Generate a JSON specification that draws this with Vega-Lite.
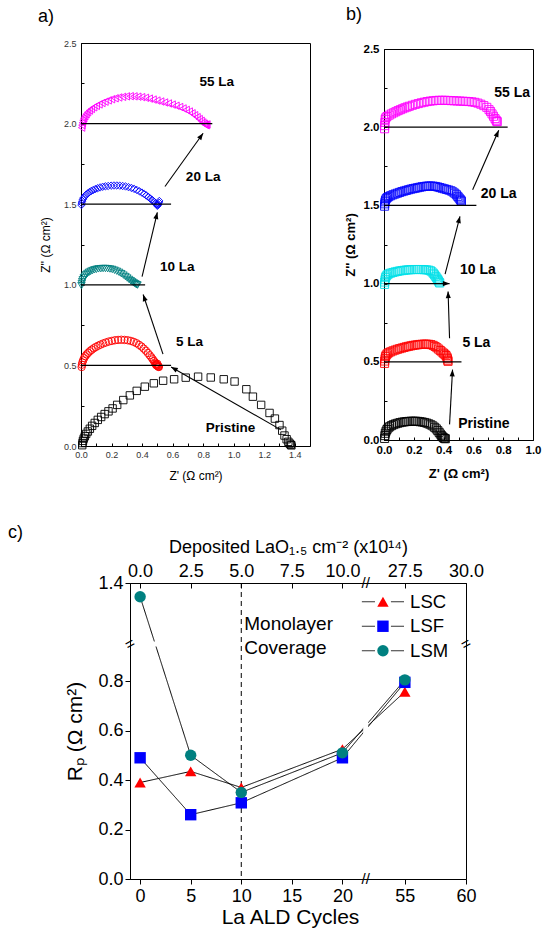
{
"$schema": "https://vega.github.io/schema/vega-lite/v6.json",
"autosize": {"type": "none"},
"padding": {"left": 81, "top": 43, "right": 462, "bottom": 889},
"background": "white",
"config": {
 "font": "Liberation Sans",
 "view": {"stroke": "#000", "strokeWidth": 1},
 "axis": {"grid": false, "domainColor": "#000", "domainWidth": 1, "tickColor": "#000", "labelColor": "#000", "titleColor": "#000", "titleFontWeight": "normal", "labelFont": "Liberation Sans", "titleFont": "Liberation Sans", "labelOverlap": false, "labelFlush": false},
 "title": {"font": "Liberation Sans", "fontWeight": "normal", "fontSize": 18, "color": "#000"},
 "legend": {"labelFont": "Liberation Sans"}
},
"datasets": {
 "a_pts": [
  {"s":"Pristine","x":0.008,"y":0.005},{"s":"Pristine","x":0.01,"y":0.018},{"s":"Pristine","x":0.013,"y":0.032},{"s":"Pristine","x":0.018,"y":0.046},{"s":"Pristine","x":0.025,"y":0.06},{"s":"Pristine","x":0.034,"y":0.075},{"s":"Pristine","x":0.045,"y":0.09},{"s":"Pristine","x":0.058,"y":0.107},{"s":"Pristine","x":0.073,"y":0.125},{"s":"Pristine","x":0.09,"y":0.143},{"s":"Pristine","x":0.11,"y":0.162},{"s":"Pristine","x":0.132,"y":0.18},{"s":"Pristine","x":0.155,"y":0.198},{"s":"Pristine","x":0.18,"y":0.215},{"s":"Pristine","x":0.207,"y":0.233},{"s":"Pristine","x":0.237,"y":0.255},{"s":"Pristine","x":0.277,"y":0.285},{"s":"Pristine","x":0.32,"y":0.314},{"s":"Pristine","x":0.365,"y":0.342},{"s":"Pristine","x":0.418,"y":0.368},{"s":"Pristine","x":0.477,"y":0.389},{"s":"Pristine","x":0.538,"y":0.405},{"s":"Pristine","x":0.61,"y":0.414},{"s":"Pristine","x":0.686,"y":0.424},{"s":"Pristine","x":0.767,"y":0.43},{"s":"Pristine","x":0.85,"y":0.425},{"s":"Pristine","x":0.935,"y":0.414},{"s":"Pristine","x":1.006,"y":0.4},{"s":"Pristine","x":1.083,"y":0.352},{"s":"Pristine","x":1.126,"y":0.306},{"s":"Pristine","x":1.18,"y":0.255},{"s":"Pristine","x":1.235,"y":0.205},{"s":"Pristine","x":1.27,"y":0.17},{"s":"Pristine","x":1.3,"y":0.13},{"s":"Pristine","x":1.318,"y":0.095},{"s":"Pristine","x":1.333,"y":0.065},{"s":"Pristine","x":1.347,"y":0.042},{"s":"Pristine","x":1.358,"y":0.026},{"s":"Pristine","x":1.367,"y":0.015},{"s":"Pristine","x":1.374,"y":0.008},{"s":"Pristine","x":1.378,"y":0.004},
  {"s":"5 La","x":0.004,"y":0.49},{"s":"5 La","x":0.006,"y":0.504},{"s":"5 La","x":0.009,"y":0.518},{"s":"5 La","x":0.014,"y":0.532},{"s":"5 La","x":0.02,"y":0.545},{"s":"5 La","x":0.028,"y":0.557},{"s":"5 La","x":0.037,"y":0.568},{"s":"5 La","x":0.047,"y":0.578},{"s":"5 La","x":0.058,"y":0.588},{"s":"5 La","x":0.07,"y":0.597},{"s":"5 La","x":0.083,"y":0.606},{"s":"5 La","x":0.097,"y":0.614},{"s":"5 La","x":0.112,"y":0.622},{"s":"5 La","x":0.128,"y":0.629},{"s":"5 La","x":0.145,"y":0.636},{"s":"5 La","x":0.163,"y":0.642},{"s":"5 La","x":0.182,"y":0.648},{"s":"5 La","x":0.202,"y":0.652},{"s":"5 La","x":0.222,"y":0.656},{"s":"5 La","x":0.243,"y":0.658},{"s":"5 La","x":0.264,"y":0.659},{"s":"5 La","x":0.285,"y":0.658},{"s":"5 La","x":0.306,"y":0.656},{"s":"5 La","x":0.326,"y":0.652},{"s":"5 La","x":0.345,"y":0.646},{"s":"5 La","x":0.363,"y":0.638},{"s":"5 La","x":0.38,"y":0.628},{"s":"5 La","x":0.396,"y":0.617},{"s":"5 La","x":0.411,"y":0.604},{"s":"5 La","x":0.425,"y":0.591},{"s":"5 La","x":0.438,"y":0.577},{"s":"5 La","x":0.45,"y":0.563},{"s":"5 La","x":0.461,"y":0.55},{"s":"5 La","x":0.47,"y":0.538},{"s":"5 La","x":0.478,"y":0.527},{"s":"5 La","x":0.485,"y":0.518},{"s":"5 La","x":0.491,"y":0.511},{"s":"5 La","x":0.496,"y":0.505},{"s":"5 La","x":0.5,"y":0.5},{"s":"5 La","x":0.503,"y":0.497},{"s":"5 La","x":0.506,"y":0.494},{"s":"5 La","x":0.508,"y":0.492},{"s":"5 La","x":0.51,"y":0.49},{"s":"5 La","x":0.495,"y":0.5},{"s":"5 La","x":0.5,"y":0.51},{"s":"5 La","x":0.49,"y":0.505},
  {"s":"10 La","x":0.003,"y":0.995},{"s":"10 La","x":0.005,"y":1.008},{"s":"10 La","x":0.008,"y":1.02},{"s":"10 La","x":0.012,"y":1.032},{"s":"10 La","x":0.018,"y":1.043},{"s":"10 La","x":0.025,"y":1.053},{"s":"10 La","x":0.033,"y":1.062},{"s":"10 La","x":0.042,"y":1.07},{"s":"10 La","x":0.052,"y":1.077},{"s":"10 La","x":0.063,"y":1.083},{"s":"10 La","x":0.075,"y":1.088},{"s":"10 La","x":0.088,"y":1.093},{"s":"10 La","x":0.101,"y":1.096},{"s":"10 La","x":0.115,"y":1.099},{"s":"10 La","x":0.13,"y":1.1},{"s":"10 La","x":0.145,"y":1.101},{"s":"10 La","x":0.16,"y":1.101},{"s":"10 La","x":0.175,"y":1.1},{"s":"10 La","x":0.19,"y":1.098},{"s":"10 La","x":0.205,"y":1.095},{"s":"10 La","x":0.22,"y":1.09},{"s":"10 La","x":0.235,"y":1.084},{"s":"10 La","x":0.25,"y":1.077},{"s":"10 La","x":0.264,"y":1.069},{"s":"10 La","x":0.278,"y":1.06},{"s":"10 La","x":0.291,"y":1.051},{"s":"10 La","x":0.303,"y":1.042},{"s":"10 La","x":0.315,"y":1.033},{"s":"10 La","x":0.326,"y":1.025},{"s":"10 La","x":0.336,"y":1.018},{"s":"10 La","x":0.345,"y":1.012},{"s":"10 La","x":0.353,"y":1.007},{"s":"10 La","x":0.36,"y":1.003},{"s":"10 La","x":0.366,"y":1.0},{"s":"10 La","x":0.37,"y":0.998},
  {"s":"20 La","x":0.003,"y":1.495},{"s":"20 La","x":0.005,"y":1.507},{"s":"20 La","x":0.008,"y":1.519},{"s":"20 La","x":0.012,"y":1.53},{"s":"20 La","x":0.018,"y":1.54},{"s":"20 La","x":0.025,"y":1.55},{"s":"20 La","x":0.034,"y":1.559},{"s":"20 La","x":0.044,"y":1.567},{"s":"20 La","x":0.055,"y":1.575},{"s":"20 La","x":0.067,"y":1.582},{"s":"20 La","x":0.08,"y":1.588},{"s":"20 La","x":0.094,"y":1.594},{"s":"20 La","x":0.109,"y":1.599},{"s":"20 La","x":0.125,"y":1.604},{"s":"20 La","x":0.142,"y":1.608},{"s":"20 La","x":0.16,"y":1.611},{"s":"20 La","x":0.178,"y":1.613},{"s":"20 La","x":0.197,"y":1.615},{"s":"20 La","x":0.216,"y":1.616},{"s":"20 La","x":0.235,"y":1.616},{"s":"20 La","x":0.254,"y":1.615},{"s":"20 La","x":0.273,"y":1.613},{"s":"20 La","x":0.292,"y":1.61},{"s":"20 La","x":0.311,"y":1.606},{"s":"20 La","x":0.33,"y":1.601},{"s":"20 La","x":0.348,"y":1.595},{"s":"20 La","x":0.366,"y":1.588},{"s":"20 La","x":0.383,"y":1.58},{"s":"20 La","x":0.399,"y":1.572},{"s":"20 La","x":0.414,"y":1.563},{"s":"20 La","x":0.428,"y":1.554},{"s":"20 La","x":0.441,"y":1.545},{"s":"20 La","x":0.453,"y":1.536},{"s":"20 La","x":0.464,"y":1.528},{"s":"20 La","x":0.473,"y":1.52},{"s":"20 La","x":0.481,"y":1.513},{"s":"20 La","x":0.488,"y":1.507},{"s":"20 La","x":0.494,"y":1.502},{"s":"20 La","x":0.499,"y":1.498},{"s":"20 La","x":0.503,"y":1.495},{"s":"20 La","x":0.506,"y":1.5},{"s":"20 La","x":0.51,"y":1.51},{"s":"20 La","x":0.513,"y":1.52},{"s":"20 La","x":0.5,"y":1.49},
  {"s":"55 La","x":0.004,"y":1.975},{"s":"55 La","x":0.006,"y":1.99},{"s":"55 La","x":0.009,"y":2.005},{"s":"55 La","x":0.013,"y":2.02},{"s":"55 La","x":0.018,"y":2.033},{"s":"55 La","x":0.025,"y":2.046},{"s":"55 La","x":0.033,"y":2.058},{"s":"55 La","x":0.043,"y":2.07},{"s":"55 La","x":0.055,"y":2.081},{"s":"55 La","x":0.068,"y":2.091},{"s":"55 La","x":0.083,"y":2.101},{"s":"55 La","x":0.1,"y":2.11},{"s":"55 La","x":0.118,"y":2.119},{"s":"55 La","x":0.137,"y":2.128},{"s":"55 La","x":0.157,"y":2.136},{"s":"55 La","x":0.178,"y":2.144},{"s":"55 La","x":0.2,"y":2.151},{"s":"55 La","x":0.223,"y":2.157},{"s":"55 La","x":0.247,"y":2.162},{"s":"55 La","x":0.272,"y":2.166},{"s":"55 La","x":0.297,"y":2.169},{"s":"55 La","x":0.322,"y":2.17},{"s":"55 La","x":0.347,"y":2.169},{"s":"55 La","x":0.372,"y":2.167},{"s":"55 La","x":0.397,"y":2.164},{"s":"55 La","x":0.422,"y":2.16},{"s":"55 La","x":0.447,"y":2.155},{"s":"55 La","x":0.472,"y":2.149},{"s":"55 La","x":0.497,"y":2.143},{"s":"55 La","x":0.522,"y":2.137},{"s":"55 La","x":0.547,"y":2.131},{"s":"55 La","x":0.572,"y":2.125},{"s":"55 La","x":0.597,"y":2.118},{"s":"55 La","x":0.622,"y":2.111},{"s":"55 La","x":0.646,"y":2.103},{"s":"55 La","x":0.668,"y":2.094},{"s":"55 La","x":0.689,"y":2.085},{"s":"55 La","x":0.709,"y":2.075},{"s":"55 La","x":0.727,"y":2.064},{"s":"55 La","x":0.744,"y":2.052},{"s":"55 La","x":0.76,"y":2.04},{"s":"55 La","x":0.774,"y":2.028},{"s":"55 La","x":0.787,"y":2.017},{"s":"55 La","x":0.798,"y":2.007},{"s":"55 La","x":0.807,"y":1.999},{"s":"55 La","x":0.814,"y":1.993},{"s":"55 La","x":0.82,"y":1.99},{"s":"55 La","x":0.825,"y":1.995}
 ],
 "a_lines": [{"x":0,"x2":0.59,"y":0.5},{"x":0,"x2":0.42,"y":1.0},{"x":0,"x2":0.59,"y":1.5},{"x":0,"x2":0.86,"y":2.0}],
 "a_arrows": [{"x":1.31,"y":0.1,"x2":0.59,"y2":0.49},{"x":0.537,"y":0.57,"x2":0.407,"y2":0.94},{"x":0.4,"y":1.05,"x2":0.5,"y2":1.45},{"x":0.55,"y":1.61,"x2":0.8,"y2":1.94}],
 "a_text": [{"label":"55 La","x":0.89,"y":2.26},{"label":"20 La","x":0.8,"y":1.67},{"label":"10 La","x":0.63,"y":1.11},{"label":"5 La","x":0.71,"y":0.645},{"label":"Pristine","x":0.98,"y":0.11}],
 "b_pts": [
  {"s":"Pristine","x":0.004,"y":0.01},{"s":"Pristine","x":0.006,"y":0.028},{"s":"Pristine","x":0.009,"y":0.043},{"s":"Pristine","x":0.014,"y":0.056},{"s":"Pristine","x":0.02,"y":0.067},{"s":"Pristine","x":0.028,"y":0.077},{"s":"Pristine","x":0.038,"y":0.085},{"s":"Pristine","x":0.05,"y":0.092},{"s":"Pristine","x":0.063,"y":0.098},{"s":"Pristine","x":0.077,"y":0.103},{"s":"Pristine","x":0.092,"y":0.107},{"s":"Pristine","x":0.107,"y":0.111},{"s":"Pristine","x":0.122,"y":0.114},{"s":"Pristine","x":0.137,"y":0.116},{"s":"Pristine","x":0.152,"y":0.118},{"s":"Pristine","x":0.167,"y":0.119},{"s":"Pristine","x":0.182,"y":0.12},{"s":"Pristine","x":0.197,"y":0.12},{"s":"Pristine","x":0.212,"y":0.12},{"s":"Pristine","x":0.227,"y":0.119},{"s":"Pristine","x":0.242,"y":0.117},{"s":"Pristine","x":0.257,"y":0.115},{"s":"Pristine","x":0.272,"y":0.112},{"s":"Pristine","x":0.287,"y":0.108},{"s":"Pristine","x":0.301,"y":0.103},{"s":"Pristine","x":0.315,"y":0.097},{"s":"Pristine","x":0.328,"y":0.09},{"s":"Pristine","x":0.34,"y":0.081},{"s":"Pristine","x":0.351,"y":0.071},{"s":"Pristine","x":0.361,"y":0.06},{"s":"Pristine","x":0.37,"y":0.049},{"s":"Pristine","x":0.378,"y":0.038},{"s":"Pristine","x":0.386,"y":0.028},{"s":"Pristine","x":0.393,"y":0.02},{"s":"Pristine","x":0.4,"y":0.014},{"s":"Pristine","x":0.406,"y":0.01},{"s":"Pristine","x":0.412,"y":0.008},
  {"s":"5 La","x":0.004,"y":0.49},{"s":"5 La","x":0.005,"y":0.505},{"s":"5 La","x":0.007,"y":0.52},{"s":"5 La","x":0.01,"y":0.533},{"s":"5 La","x":0.015,"y":0.543},{"s":"5 La","x":0.022,"y":0.551},{"s":"5 La","x":0.032,"y":0.558},{"s":"5 La","x":0.045,"y":0.564},{"s":"5 La","x":0.06,"y":0.57},{"s":"5 La","x":0.075,"y":0.575},{"s":"5 La","x":0.09,"y":0.58},{"s":"5 La","x":0.105,"y":0.584},{"s":"5 La","x":0.12,"y":0.588},{"s":"5 La","x":0.135,"y":0.592},{"s":"5 La","x":0.15,"y":0.596},{"s":"5 La","x":0.165,"y":0.599},{"s":"5 La","x":0.18,"y":0.602},{"s":"5 La","x":0.195,"y":0.605},{"s":"5 La","x":0.21,"y":0.607},{"s":"5 La","x":0.225,"y":0.609},{"s":"5 La","x":0.24,"y":0.611},{"s":"5 La","x":0.255,"y":0.612},{"s":"5 La","x":0.27,"y":0.613},{"s":"5 La","x":0.285,"y":0.613},{"s":"5 La","x":0.3,"y":0.612},{"s":"5 La","x":0.315,"y":0.61},{"s":"5 La","x":0.33,"y":0.605},{"s":"5 La","x":0.343,"y":0.598},{"s":"5 La","x":0.355,"y":0.59},{"s":"5 La","x":0.367,"y":0.581},{"s":"5 La","x":0.378,"y":0.572},{"s":"5 La","x":0.389,"y":0.563},{"s":"5 La","x":0.399,"y":0.555},{"s":"5 La","x":0.408,"y":0.548},{"s":"5 La","x":0.416,"y":0.54},{"s":"5 La","x":0.422,"y":0.53},{"s":"5 La","x":0.426,"y":0.52},{"s":"5 La","x":0.428,"y":0.51},{"s":"5 La","x":0.43,"y":0.503},
  {"s":"10 La","x":0.004,"y":0.995},{"s":"10 La","x":0.005,"y":1.01},{"s":"10 La","x":0.007,"y":1.025},{"s":"10 La","x":0.01,"y":1.038},{"s":"10 La","x":0.015,"y":1.048},{"s":"10 La","x":0.022,"y":1.056},{"s":"10 La","x":0.032,"y":1.062},{"s":"10 La","x":0.045,"y":1.067},{"s":"10 La","x":0.06,"y":1.071},{"s":"10 La","x":0.075,"y":1.075},{"s":"10 La","x":0.09,"y":1.078},{"s":"10 La","x":0.105,"y":1.081},{"s":"10 La","x":0.12,"y":1.083},{"s":"10 La","x":0.135,"y":1.085},{"s":"10 La","x":0.15,"y":1.087},{"s":"10 La","x":0.165,"y":1.088},{"s":"10 La","x":0.18,"y":1.089},{"s":"10 La","x":0.195,"y":1.09},{"s":"10 La","x":0.21,"y":1.09},{"s":"10 La","x":0.225,"y":1.09},{"s":"10 La","x":0.24,"y":1.09},{"s":"10 La","x":0.255,"y":1.09},{"s":"10 La","x":0.27,"y":1.089},{"s":"10 La","x":0.285,"y":1.088},{"s":"10 La","x":0.3,"y":1.086},{"s":"10 La","x":0.312,"y":1.082},{"s":"10 La","x":0.322,"y":1.075},{"s":"10 La","x":0.331,"y":1.066},{"s":"10 La","x":0.339,"y":1.056},{"s":"10 La","x":0.347,"y":1.046},{"s":"10 La","x":0.354,"y":1.036},{"s":"10 La","x":0.36,"y":1.027},{"s":"10 La","x":0.365,"y":1.018},{"s":"10 La","x":0.37,"y":1.01},{"s":"10 La","x":0.374,"y":1.004},
  {"s":"20 La","x":0.004,"y":1.495},{"s":"20 La","x":0.005,"y":1.51},{"s":"20 La","x":0.007,"y":1.523},{"s":"20 La","x":0.01,"y":1.534},{"s":"20 La","x":0.015,"y":1.543},{"s":"20 La","x":0.022,"y":1.55},{"s":"20 La","x":0.032,"y":1.556},{"s":"20 La","x":0.045,"y":1.562},{"s":"20 La","x":0.06,"y":1.568},{"s":"20 La","x":0.075,"y":1.573},{"s":"20 La","x":0.09,"y":1.578},{"s":"20 La","x":0.105,"y":1.583},{"s":"20 La","x":0.12,"y":1.588},{"s":"20 La","x":0.135,"y":1.592},{"s":"20 La","x":0.15,"y":1.596},{"s":"20 La","x":0.165,"y":1.6},{"s":"20 La","x":0.18,"y":1.604},{"s":"20 La","x":0.195,"y":1.607},{"s":"20 La","x":0.21,"y":1.61},{"s":"20 La","x":0.225,"y":1.613},{"s":"20 La","x":0.24,"y":1.616},{"s":"20 La","x":0.255,"y":1.619},{"s":"20 La","x":0.27,"y":1.621},{"s":"20 La","x":0.285,"y":1.623},{"s":"20 La","x":0.3,"y":1.624},{"s":"20 La","x":0.315,"y":1.624},{"s":"20 La","x":0.33,"y":1.623},{"s":"20 La","x":0.345,"y":1.621},{"s":"20 La","x":0.36,"y":1.618},{"s":"20 La","x":0.375,"y":1.614},{"s":"20 La","x":0.39,"y":1.61},{"s":"20 La","x":0.405,"y":1.606},{"s":"20 La","x":0.42,"y":1.602},{"s":"20 La","x":0.435,"y":1.598},{"s":"20 La","x":0.45,"y":1.593},{"s":"20 La","x":0.463,"y":1.586},{"s":"20 La","x":0.475,"y":1.578},{"s":"20 La","x":0.486,"y":1.568},{"s":"20 La","x":0.495,"y":1.558},{"s":"20 La","x":0.503,"y":1.548},{"s":"20 La","x":0.51,"y":1.54},{"s":"20 La","x":0.515,"y":1.533},{"s":"20 La","x":0.52,"y":1.527},
  {"s":"55 La","x":0.004,"y":1.99},{"s":"55 La","x":0.005,"y":2.01},{"s":"55 La","x":0.006,"y":2.03},{"s":"55 La","x":0.008,"y":2.05},{"s":"55 La","x":0.012,"y":2.06},{"s":"55 La","x":0.02,"y":2.068},{"s":"55 La","x":0.035,"y":2.077},{"s":"55 La","x":0.05,"y":2.085},{"s":"55 La","x":0.065,"y":2.092},{"s":"55 La","x":0.08,"y":2.099},{"s":"55 La","x":0.095,"y":2.106},{"s":"55 La","x":0.11,"y":2.112},{"s":"55 La","x":0.125,"y":2.118},{"s":"55 La","x":0.14,"y":2.124},{"s":"55 La","x":0.155,"y":2.129},{"s":"55 La","x":0.17,"y":2.134},{"s":"55 La","x":0.19,"y":2.14},{"s":"55 La","x":0.21,"y":2.146},{"s":"55 La","x":0.23,"y":2.151},{"s":"55 La","x":0.25,"y":2.156},{"s":"55 La","x":0.27,"y":2.16},{"s":"55 La","x":0.29,"y":2.164},{"s":"55 La","x":0.31,"y":2.167},{"s":"55 La","x":0.33,"y":2.169},{"s":"55 La","x":0.35,"y":2.171},{"s":"55 La","x":0.37,"y":2.172},{"s":"55 La","x":0.39,"y":2.172},{"s":"55 La","x":0.41,"y":2.172},{"s":"55 La","x":0.43,"y":2.171},{"s":"55 La","x":0.45,"y":2.17},{"s":"55 La","x":0.47,"y":2.169},{"s":"55 La","x":0.49,"y":2.168},{"s":"55 La","x":0.51,"y":2.167},{"s":"55 La","x":0.53,"y":2.166},{"s":"55 La","x":0.55,"y":2.165},{"s":"55 La","x":0.57,"y":2.164},{"s":"55 La","x":0.59,"y":2.162},{"s":"55 La","x":0.61,"y":2.159},{"s":"55 La","x":0.63,"y":2.154},{"s":"55 La","x":0.65,"y":2.147},{"s":"55 La","x":0.67,"y":2.138},{"s":"55 La","x":0.69,"y":2.127},{"s":"55 La","x":0.705,"y":2.112},{"s":"55 La","x":0.715,"y":2.1},{"s":"55 La","x":0.725,"y":2.085},{"s":"55 La","x":0.735,"y":2.07},{"s":"55 La","x":0.745,"y":2.055},{"s":"55 La","x":0.752,"y":2.045},{"s":"55 La","x":0.757,"y":2.038},{"s":"55 La","x":0.76,"y":2.035}
 ],
 "b_lines": [{"x":0,"x2":0.52,"y":0.5},{"x":0,"x2":0.62,"y":1.5},{"x":0,"x2":0.83,"y":2.0}],
 "b_arrows": [{"x":0.44,"y":0.1,"x2":0.46,"y2":0.45},{"x":0.44,"y":0.65,"x2":0.43,"y2":0.95},{"x":0.41,"y":1.06,"x2":0.51,"y2":1.43},{"x":0.595,"y":1.6,"x2":0.77,"y2":1.98},{"x":0,"y":1.0,"x2":0.44,"y2":1.0}],
 "b_text": [{"label":"55 La","x":0.86,"y":2.22},{"label":"20 La","x":0.77,"y":1.57},{"label":"10 La","x":0.63,"y":1.09},{"label":"5 La","x":0.62,"y":0.62},{"label":"Pristine","x":0.67,"y":0.1}],
 "c_rp": [
  {"material":"LSC","cycles":0,"rp":0.39},{"material":"LSC","cycles":5,"rp":0.435},{"material":"LSC","cycles":10,"rp":0.37},{"material":"LSC","cycles":20,"rp":0.525},{"material":"LSC","cycles":55,"rp":0.757},
  {"material":"LSF","cycles":0,"rp":0.49},{"material":"LSF","cycles":5,"rp":0.26},{"material":"LSF","cycles":10,"rp":0.308},{"material":"LSF","cycles":20,"rp":0.49},{"material":"LSF","cycles":55,"rp":0.795},
  {"material":"LSM","cycles":0,"rp":1.355},{"material":"LSM","cycles":5,"rp":0.5},{"material":"LSM","cycles":10,"rp":0.35},{"material":"LSM","cycles":20,"rp":0.51},{"material":"LSM","cycles":55,"rp":0.805}
 ]
},
"bounds": "flush",
"spacing": 540,
"resolve": {"scale": {"x": "independent", "y": "independent", "color": "independent", "shape": "independent", "strokeDash": "independent"}, "legend": {"color": "independent", "shape": "independent", "strokeDash": "independent"}},
"vconcat": [
 {
  "hconcat": [
   {
    "width": 229, "height": 403,
    "title": {"text": "a)", "anchor": "start", "frame": "group", "dx": -43, "offset": 13},
    "resolve": {"axis": {"x": "independent", "y": "independent"}},
    "layer": [
     {"data": {"name": "a_pts"},
      "mark": {"type": "point", "filled": false, "strokeWidth": 0.9, "size": 55, "opacity": 1},
      "encoding": {
       "x": {"field": "x", "type": "quantitative", "scale": {"domain": [0, 1.5], "nice": false, "zero": false},
             "axis": {"values": [0,0.1,0.2,0.3,0.4,0.5,0.6,0.7,0.8,0.9,1.0,1.1,1.2,1.3,1.4], "labelExpr": "round(datum.value*10)%2==0 ? format(datum.value,'.1f') : ''", "tickSize": -3, "labelPadding": 7, "labelFontSize": 9, "labelColor": "#333", "title": "Z' (Ω cm²)", "titleFontSize": 12, "titlePadding": 11}},
       "y": {"field": "y", "type": "quantitative", "scale": {"domain": [0, 2.5], "nice": false, "zero": false},
             "axis": {"values": [0,0.25,0.5,0.75,1.0,1.25,1.5,1.75,2.0,2.25,2.5], "labelExpr": "round(datum.value*4)%2==0 ? format(datum.value,'.1f') : ''", "tickSize": -3, "labelPadding": 8, "labelFontSize": 9, "labelColor": "#333", "title": "Z'' (Ω cm²)", "titleFontSize": 12, "titlePadding": 11}},
       "color": {"field": "s", "type": "nominal", "scale": {"domain": ["Pristine","5 La","10 La","20 La","55 La"], "range": ["#000000","#ff0000","#008080","#0000ff","#ff00ff"]}, "legend": null},
       "shape": {"field": "s", "type": "nominal", "scale": {"domain": ["Pristine","5 La","10 La","20 La","55 La"], "range": ["square","circle","triangle-down","diamond","triangle-left"]}, "legend": null}
      }},
     {"data": {"name": "a_lines"},
      "mark": {"type": "rule", "color": "#000", "strokeWidth": 1.2},
      "encoding": {"x": {"field": "x", "type": "quantitative", "axis": null}, "x2": {"field": "x2"}, "y": {"field": "y", "type": "quantitative", "axis": null}}},
     {"data": {"name": "a_arrows"},
      "mark": {"type": "rule", "color": "#000", "strokeWidth": 1.1},
      "encoding": {"x": {"field": "x", "type": "quantitative", "axis": null}, "x2": {"field": "x2"}, "y": {"field": "y", "type": "quantitative", "axis": null}, "y2": {"field": "y2"}}},
     {"data": {"name": "a_arrows"},
      "transform": [{"calculate": "atan2((datum.x2-datum.x)*153,(datum.y2-datum.y)*161.2)*180/PI", "as": "ang"}],
      "mark": {"type": "point", "filled": true, "color": "#000", "size": 180, "shape": "M0,0L0.38,1L-0.38,1Z", "opacity": 1},
      "encoding": {"x": {"field": "x2", "type": "quantitative", "axis": null}, "y": {"field": "y2", "type": "quantitative", "axis": null}, "angle": {"field": "ang", "type": "quantitative", "scale": null}}},
     {"data": {"name": "a_text"},
      "mark": {"type": "text", "fontWeight": "bold", "fontSize": 13.5, "color": "#000", "align": "center", "baseline": "middle"},
      "encoding": {"x": {"field": "x", "type": "quantitative", "axis": null}, "y": {"field": "y", "type": "quantitative", "axis": null}, "text": {"field": "label"}}}
    ]
   },
   {
    "width": 149, "height": 391,
    "title": {"text": "b)", "anchor": "start", "frame": "group", "dx": -38, "offset": 19},
    "resolve": {"axis": {"x": "independent", "y": "independent"}},
    "layer": [
     {"data": {"name": "b_pts"},
      "mark": {"type": "point", "filled": false, "strokeWidth": 0.9, "size": 65, "shape": "square", "opacity": 1},
      "encoding": {
       "x": {"field": "x", "type": "quantitative", "scale": {"domain": [0, 1.0], "nice": false, "zero": false},
             "axis": {"values": [0,0.1,0.2,0.3,0.4,0.5,0.6,0.7,0.8,0.9,1.0], "labelExpr": "round(datum.value*10)%2==0 ? format(datum.value,'.1f') : ''", "tickSize": -3, "labelPadding": 7, "labelFontSize": 11.5, "labelFontWeight": "bold", "title": "Z' (Ω cm²)", "titleFontSize": 13, "titleFontWeight": "bold", "titlePadding": 12}},
       "y": {"field": "y", "type": "quantitative", "scale": {"domain": [0, 2.5], "nice": false, "zero": false},
             "axis": {"values": [0,0.25,0.5,0.75,1.0,1.25,1.5,1.75,2.0,2.25,2.5], "labelExpr": "round(datum.value*4)%2==0 ? format(datum.value,'.1f') : ''", "tickSize": -3, "labelPadding": 8, "labelFontSize": 11.5, "labelFontWeight": "bold", "title": "Z'' (Ω cm²)", "titleFontSize": 13, "titleFontWeight": "bold", "titlePadding": 6}},
       "color": {"field": "s", "type": "nominal", "scale": {"domain": ["Pristine","5 La","10 La","20 La","55 La"], "range": ["#000000","#ff0000","#00e0e8","#0000ff","#ff00ff"]}, "legend": null}
      }},
     {"data": {"name": "b_lines"},
      "mark": {"type": "rule", "color": "#000", "strokeWidth": 1.3},
      "encoding": {"x": {"field": "x", "type": "quantitative", "axis": null}, "x2": {"field": "x2"}, "y": {"field": "y", "type": "quantitative", "axis": null}}},
     {"data": {"name": "b_arrows"},
      "mark": {"type": "rule", "color": "#000", "strokeWidth": 1.1},
      "encoding": {"x": {"field": "x", "type": "quantitative", "axis": null}, "x2": {"field": "x2"}, "y": {"field": "y", "type": "quantitative", "axis": null}, "y2": {"field": "y2"}}},
     {"data": {"name": "b_arrows"},
      "transform": [{"calculate": "atan2((datum.x2-datum.x)*149,(datum.y2-datum.y)*156.4)*180/PI", "as": "ang"}],
      "mark": {"type": "point", "filled": true, "color": "#000", "size": 180, "shape": "M0,0L0.38,1L-0.38,1Z", "opacity": 1},
      "encoding": {"x": {"field": "x2", "type": "quantitative", "axis": null}, "y": {"field": "y2", "type": "quantitative", "axis": null}, "angle": {"field": "ang", "type": "quantitative", "scale": null}}},
     {"data": {"name": "b_text"},
      "mark": {"type": "text", "fontWeight": "bold", "fontSize": 14, "color": "#000", "align": "center", "baseline": "middle"},
      "encoding": {"x": {"field": "x", "type": "quantitative", "axis": null}, "y": {"field": "y", "type": "quantitative", "axis": null}, "text": {"field": "label"}}}
    ]
   }
  ],
  "spacing": 74,
  "bounds": "flush",
  "center": true,
  "resolve": {"scale": {"x": "independent", "y": "independent", "color": "independent", "shape": "independent"}}
 },
 {
  "hconcat": [
   {"width": 49, "height": 296, "data": {"values": []}, "mark": {"type": "point", "opacity": 0}, "view": {"stroke": null}},
   {
    "width": 336, "height": 296,
    "title": {"text": "c)", "anchor": "start", "frame": "group", "dx": -122, "offset": -4},
    "resolve": {"axis": {"x": "independent", "y": "independent"}},
    "layer": [
     {"data": {"values": [{}]},
      "mark": {"type": "rule", "strokeDash": [5, 4], "color": "#000", "strokeWidth": 1},
      "encoding": {"x": {"datum": 10, "type": "quantitative", "axis": null}}},
     {"data": {"name": "c_rp"},
      "mark": {"type": "line", "color": "#000", "strokeWidth": 1},
      "encoding": {
       "x": {"field": "cycles", "type": "quantitative", "scale": {"type": "linear", "domain": [-1, 22.3, 51.8, 60], "range": [0, 235.7, 235.7, 336], "nice": false, "zero": false},
             "axis": {"orient": "bottom", "values": [0,5,10,15,20,55,60], "title": "La ALD Cycles", "labelFontSize": 18, "titleFontSize": 21, "tickSize": 5, "labelPadding": 3, "titlePadding": 1, "titleX": 160}},
       "y": {"field": "rp", "type": "quantitative", "scale": {"type": "linear", "domain": [0, 0.95, 1.2, 1.4], "range": [296, 61, 61, 0], "nice": false, "zero": false},
             "axis": {"orient": "left", "values": [0,0.2,0.4,0.6,0.8,1.4], "format": ".1f", "title": "Rₚ (Ω cm²)", "labelFontSize": 18, "titleFontSize": 21, "tickSize": 5, "labelPadding": 2, "titlePadding": 12}},
       "strokeDash": {"field": "material", "type": "nominal", "scale": {"domain": ["LSC","LSF","LSM"], "range": [[1,0],[1,0],[1,0]]},
             "legend": {"orient": "none", "legendX": 292.7, "legendY": 9.5, "title": null, "symbolType": "M-3.7,0H-1.4M1.4,0H3.7", "symbolSize": 130, "symbolStrokeColor": "#333", "symbolStrokeWidth": 1.2, "labelExpr": "''", "labelFontSize": 18.5, "labelOffset": 17.9, "rowPadding": 5.5, "padding": 0}}
      }},
     {"data": {"values": [{}]},
      "mark": {"type": "rule", "color": "white", "strokeWidth": 5},
      "encoding": {"x": {"datum": 0.5, "type": "quantitative", "axis": null}, "x2": {"datum": 2.4}, "y": {"datum": 0.95, "type": "quantitative", "axis": null}}},
     {"data": {"values": [{}]},
      "mark": {"type": "rule", "color": "white", "strokeWidth": 5},
      "encoding": {"x": {"datum": 22.3, "type": "quantitative", "axis": null}, "y": {"datum": 0.56, "type": "quantitative", "axis": null}, "y2": {"datum": 0.7}}},
     {"data": {"name": "c_rp"},
      "mark": {"type": "point", "filled": true, "size": 130, "opacity": 1},
      "encoding": {
       "x": {"field": "cycles", "type": "quantitative",
             "axis": {"orient": "top", "values": [0,5,10,15,20,55,60], "labelExpr": "format(datum.value/2,'.1f')", "title": "Deposited LaO₁.₅ cm⁻² (x10¹⁴)", "labelFontSize": 18, "titleFontSize": 18, "tickSize": -5, "labelPadding": 8, "titlePadding": 6, "titleX": 158}},
       "y": {"field": "rp", "type": "quantitative", "axis": null},
       "color": {"field": "material", "type": "nominal", "scale": {"range": ["#ff0000","#0000ff","#008080"]},
             "legend": {"orient": "none", "legendX": 292.7, "legendY": 9.5, "title": null, "symbolSize": 130, "labelFontSize": 18.5, "labelOffset": 17.9, "rowPadding": 5.5, "padding": 0,
                        "encode": {"labels": {"update": {"fill": {"signal": "datum.value === 'LSC' ? '#ff0000' : datum.value === 'LSF' ? '#0000ff' : '#008080'"}}}}}},
       "shape": {"field": "material", "type": "nominal", "scale": {"range": ["triangle-up","square","circle"]},
             "legend": {"orient": "none", "legendX": 292.7, "legendY": 9.5, "title": null, "symbolSize": 130, "labelFontSize": 18.5, "labelOffset": 17.9, "rowPadding": 5.5, "padding": 0,
                        "encode": {"labels": {"update": {"fill": {"signal": "datum.value === 'LSC' ? '#ff0000' : datum.value === 'LSF' ? '#0000ff' : '#008080'"}}}}}}
      }},
     {"data": {"values": [{}]},
      "mark": {"type": "text", "text": ["Monolayer", "Coverage"], "align": "left", "baseline": "alphabetic", "fontSize": 19, "lineHeight": 24, "dx": 3, "color": "#000"},
      "encoding": {"x": {"datum": 10, "type": "quantitative", "axis": null}, "y": {"datum": 1.246, "type": "quantitative", "axis": null}}},
     {"data": {"values": [{}]},
      "mark": {"type": "text", "text": "//", "align": "center", "baseline": "middle", "fontSize": 15, "color": "#000"},
      "encoding": {"x": {"datum": 22.3, "type": "quantitative", "axis": null}, "y": {"datum": 0, "type": "quantitative", "axis": null}}},
     {"data": {"values": [{}]},
      "mark": {"type": "text", "text": "//", "align": "center", "baseline": "middle", "fontSize": 15, "color": "#000"},
      "encoding": {"x": {"datum": 22.3, "type": "quantitative", "axis": null}, "y": {"datum": 1.4, "type": "quantitative", "axis": null}}},
     {"data": {"values": [{}]},
      "mark": {"type": "text", "text": "=", "align": "center", "baseline": "middle", "fontSize": 16, "angle": -30, "color": "#000"},
      "encoding": {"x": {"datum": -1, "type": "quantitative", "axis": null}, "y": {"datum": 0.95, "type": "quantitative", "axis": null}}},
     {"data": {"values": [{}]},
      "mark": {"type": "text", "text": "=", "align": "center", "baseline": "middle", "fontSize": 16, "angle": -30, "color": "#000"},
      "encoding": {"x": {"datum": 60, "type": "quantitative", "axis": null}, "y": {"datum": 0.95, "type": "quantitative", "axis": null}}}
    ]
   }
  ],
  "spacing": 0,
  "bounds": "flush",
  "resolve": {"scale": {"x": "independent", "y": "independent"}}
 }
]
}
